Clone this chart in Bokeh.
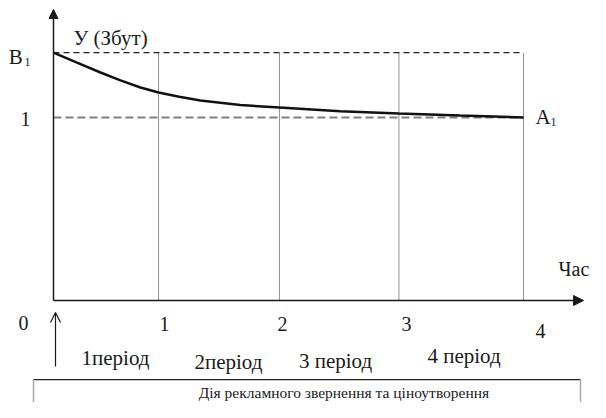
from bokeh.plotting import figure
from bokeh.models import Range1d, Arrow, NormalHead, OpenHead, Label
from bokeh.embed import file_html
from bokeh.resources import INLINE

# ---- data ----
time_pts = [0, 0.2, 0.4, 0.57, 0.74, 0.894, 1.07, 1.25, 1.59, 1.923, 2.44, 2.94, 3.46, 4.0]
sales = [1.355, 1.30, 1.246, 1.203, 1.164, 1.137, 1.113, 1.093, 1.068, 1.055, 1.034, 1.022, 1.011, 1.0]
boundaries = [0.894, 1.923, 2.94, 4.0]          # dotted period boundaries
tick_labels = ["0", "1", "2", "3", "4"]
tick_label_x = [-0.255, 0.945, 1.949, 3.004, 4.145]
tick_label_y = [-0.123, -0.131, -0.131, -0.128, -0.164]
period_labels = ["1період", "2період", "3 період", "4 період"]
period_x = [0.528, 1.489, 2.40, 3.494]
period_y = [-0.315, -0.336, -0.328, -0.303]
b1_level = 1.355
base_level = 1.0

FONT = "Liberation Serif"
INK = "#1a1a1a"

p = figure(width=590, height=402, output_backend="svg", toolbar_location=None,
           x_range=Range1d(-0.45106, 4.57021), y_range=Range1d(-0.55738, 1.63934),
           x_axis_location=None, y_axis_location=None, min_border=0)
p.outline_line_color = None
p.xgrid.visible = False
p.ygrid.visible = False
p.background_fill_color = "white"
p.border_fill_color = "white"

# dotted verticals
for b in boundaries:
    p.line([b, b], [0, b1_level], line_color="#222222", line_width=1, line_dash="1 1")

# dashed horizontals
p.line([0, boundaries[-1]], [b1_level, b1_level], line_color="#222222", line_width=1.2, line_dash="6 4")
p.line([0, boundaries[-1]], [base_level, base_level], line_color="#808080", line_width=2, line_dash="8 4")

# curve
p.line(time_pts, sales, line_color="#111111", line_width=2.5)

# axes with arrows
p.add_layout(Arrow(x_start=0, y_start=0, x_end=0, y_end=1.59, line_color=INK, line_width=1.5,
                   end=NormalHead(size=9, fill_color=INK, line_color=INK)))
p.add_layout(Arrow(x_start=0, y_start=0, x_end=4.511, y_end=0, line_color=INK, line_width=1.5,
                   end=NormalHead(size=10, fill_color=INK, line_color=INK)))
# small upward arrow
p.add_layout(Arrow(x_start=0.017, y_start=-0.36, x_end=0.017, y_end=-0.066, line_color=INK, line_width=1.2,
                   end=OpenHead(size=10, line_color=INK, line_width=1.2)))

# box
p.line([-0.170, 4.485], [-0.432, -0.432], line_color="#222222", line_width=1.2)
p.line([-0.170, -0.170], [-0.432, -0.62], line_color="#aaaaaa", line_width=1.5)
p.line([4.485, 4.485], [-0.432, -0.62], line_color="#aaaaaa", line_width=1.5)

def lab(x, y, t, size, align="left", baseline="middle"):
    p.add_layout(Label(x=x, y=y, text=t, text_font=FONT, text_font_size=f"{size}px",
                       text_color=INK, text_align=align, text_baseline=baseline))

lab(0.170, 1.437, "У (Збут)", 21)
lab(-0.380, 1.331, "B", 21)
lab(-0.247, 1.306, "1", 12)
lab(-0.238, 0.992, "1", 20, align="center")
lab(4.102, 1.0, "A", 21)
lab(4.230, 0.978, "1", 12)
lab(4.560, 0.172, "Час", 20, align="right")

for t, x, y in zip(tick_labels, tick_label_x, tick_label_y):
    lab(x, y, t, 20, align="center")
for t, x, y in zip(period_labels, period_x, period_y):
    lab(x, y, t, 21, align="center")

lab(2.472, -0.503, "Дія рекламного звернення та ціноутворення", 15.5, align="center")

open("out.html", "w").write(file_html(p, INLINE))
